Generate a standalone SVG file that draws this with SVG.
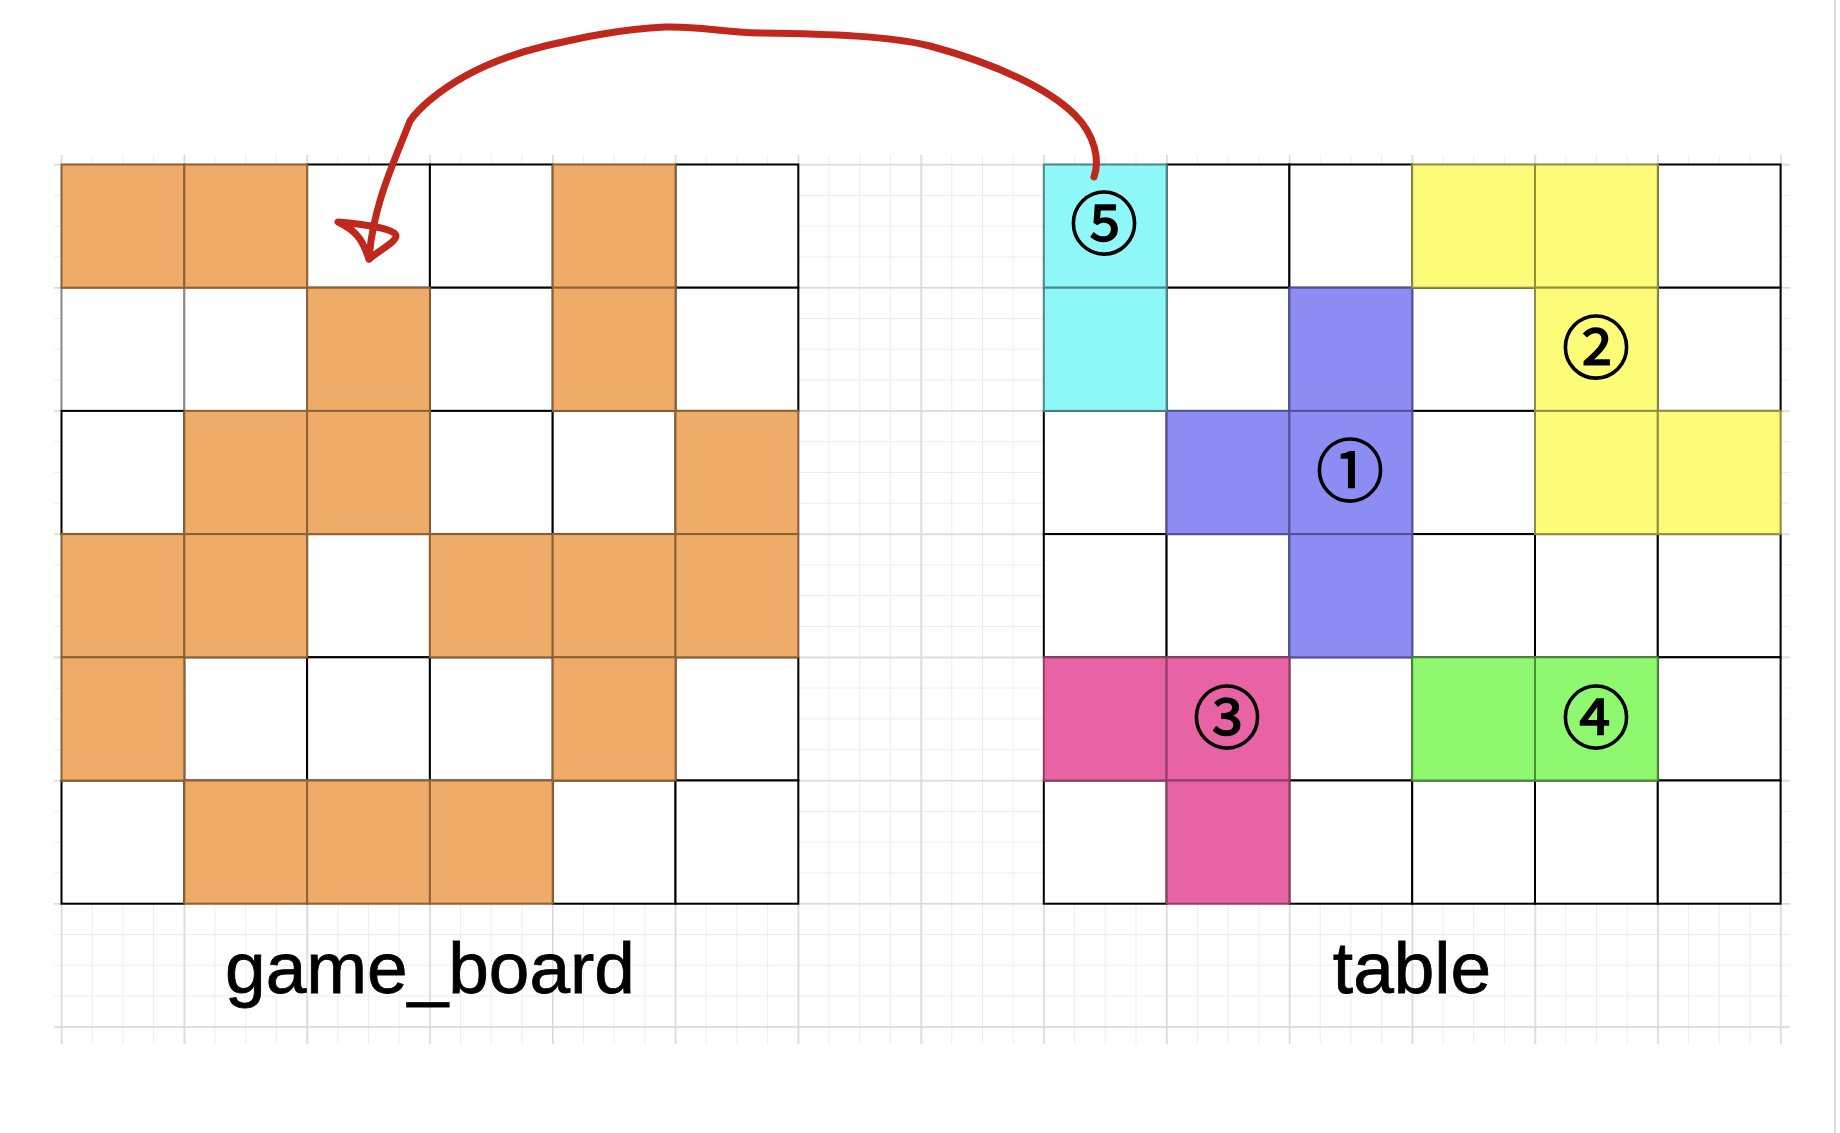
<svg xmlns="http://www.w3.org/2000/svg" width="1840" height="1133" viewBox="0 0 1840 1133">
<defs>
<style>
.w{fill:#ffffff;stroke:#000000;stroke-width:2}
.g{fill:#ffffff;stroke:#8a8a8a;stroke-width:2}
.o{fill:#EEAC68;stroke:#8C6137;stroke-width:2}
.c{fill:#8EF7F7;stroke:#4B8787;stroke-width:2}
.p{fill:#8C8CF2;stroke:#50509A;stroke-width:2}
.y{fill:#FDFC78;stroke:#8F8E3C;stroke-width:2}
.k{fill:#E763A3;stroke:#8E3E62;stroke-width:2}
.n{fill:#8EF86E;stroke:#4E8C3C;stroke-width:2}
.lbl{font-family:"Liberation Sans",Arial,Helvetica,sans-serif;font-size:73px;fill:#000;stroke:#000;stroke-width:0.8;text-anchor:middle}
.num{font-family:"Noto Sans CJK JP","DejaVu Sans",sans-serif;font-size:68px;fill:#000;stroke:#000;stroke-width:1.4;text-anchor:middle}
.arrow{fill:none;stroke:#C0271D;stroke-width:7;stroke-linecap:round;stroke-linejoin:round}
</style>
<pattern id="minor" patternUnits="userSpaceOnUse" x="61" y="164" width="30.7" height="30.8">
<rect x="0" y="0" width="1" height="30.8" fill="#ededed"/>
<rect x="0" y="0" width="30.7" height="1" fill="#ededed"/>
</pattern>
<pattern id="major" patternUnits="userSpaceOnUse" x="60.8" y="163.8" width="122.8" height="123.2">
<rect x="0" y="0" width="1.6" height="123.2" fill="#d9d9d9"/>
<rect x="0" y="0" width="122.8" height="1.6" fill="#d9d9d9"/>
</pattern>
</defs>
<rect x="0" y="0" width="1840" height="1133" fill="#ffffff"/>
<g id="background-grid">
<rect x="54" y="155" width="1736" height="889" fill="url(#minor)"/>
<rect x="54" y="155" width="1736" height="889" fill="url(#major)"/>
<line x1="1835" y1="0" x2="1835" y2="1133" stroke="#dedede" stroke-width="2"/>
</g>
<g id="game_board">
<rect class="w" x="307.1" y="164.5" width="122.8" height="123.2"/>
<rect class="w" x="429.9" y="164.5" width="122.8" height="123.2"/>
<rect class="w" x="675.5" y="164.5" width="122.8" height="123.2"/>
<rect class="g" x="61.5" y="287.7" width="122.8" height="123.2"/>
<rect class="g" x="184.3" y="287.7" width="122.8" height="123.2"/>
<rect class="w" x="429.9" y="287.7" width="122.8" height="123.2"/>
<rect class="w" x="675.5" y="287.7" width="122.8" height="123.2"/>
<rect class="w" x="61.5" y="410.9" width="122.8" height="123.2"/>
<rect class="w" x="429.9" y="410.9" width="122.8" height="123.2"/>
<rect class="w" x="552.7" y="410.9" width="122.8" height="123.2"/>
<rect class="w" x="307.1" y="534.1" width="122.8" height="123.2"/>
<rect class="w" x="184.3" y="657.3" width="122.8" height="123.2"/>
<rect class="w" x="307.1" y="657.3" width="122.8" height="123.2"/>
<rect class="w" x="429.9" y="657.3" width="122.8" height="123.2"/>
<rect class="w" x="675.5" y="657.3" width="122.8" height="123.2"/>
<rect class="w" x="61.5" y="780.5" width="122.8" height="123.2"/>
<rect class="w" x="552.7" y="780.5" width="122.8" height="123.2"/>
<rect class="w" x="675.5" y="780.5" width="122.8" height="123.2"/>
<rect class="o" x="61.5" y="164.5" width="122.8" height="123.2"/>
<rect class="o" x="184.3" y="164.5" width="122.8" height="123.2"/>
<rect class="o" x="552.7" y="164.5" width="122.8" height="123.2"/>
<rect class="o" x="307.1" y="287.7" width="122.8" height="123.2"/>
<rect class="o" x="552.7" y="287.7" width="122.8" height="123.2"/>
<rect class="o" x="184.3" y="410.9" width="122.8" height="123.2"/>
<rect class="o" x="307.1" y="410.9" width="122.8" height="123.2"/>
<rect class="o" x="675.5" y="410.9" width="122.8" height="123.2"/>
<rect class="o" x="61.5" y="534.1" width="122.8" height="123.2"/>
<rect class="o" x="184.3" y="534.1" width="122.8" height="123.2"/>
<rect class="o" x="429.9" y="534.1" width="122.8" height="123.2"/>
<rect class="o" x="552.7" y="534.1" width="122.8" height="123.2"/>
<rect class="o" x="675.5" y="534.1" width="122.8" height="123.2"/>
<rect class="o" x="61.5" y="657.3" width="122.8" height="123.2"/>
<rect class="o" x="552.7" y="657.3" width="122.8" height="123.2"/>
<rect class="o" x="184.3" y="780.5" width="122.8" height="123.2"/>
<rect class="o" x="307.1" y="780.5" width="122.8" height="123.2"/>
<rect class="o" x="429.9" y="780.5" width="122.8" height="123.2"/>
<text class="lbl" x="430" y="993">game_board</text>
</g>
<g id="table">
<rect class="w" x="1166.6" y="164.5" width="122.8" height="123.2"/>
<rect class="w" x="1289.4" y="164.5" width="122.8" height="123.2"/>
<rect class="w" x="1657.8" y="164.5" width="122.8" height="123.2"/>
<rect class="w" x="1166.6" y="287.7" width="122.8" height="123.2"/>
<rect class="w" x="1412.2" y="287.7" width="122.8" height="123.2"/>
<rect class="w" x="1657.8" y="287.7" width="122.8" height="123.2"/>
<rect class="w" x="1043.8" y="410.9" width="122.8" height="123.2"/>
<rect class="w" x="1412.2" y="410.9" width="122.8" height="123.2"/>
<rect class="w" x="1043.8" y="534.1" width="122.8" height="123.2"/>
<rect class="w" x="1166.6" y="534.1" width="122.8" height="123.2"/>
<rect class="w" x="1412.2" y="534.1" width="122.8" height="123.2"/>
<rect class="w" x="1535" y="534.1" width="122.8" height="123.2"/>
<rect class="w" x="1657.8" y="534.1" width="122.8" height="123.2"/>
<rect class="w" x="1289.4" y="657.3" width="122.8" height="123.2"/>
<rect class="w" x="1657.8" y="657.3" width="122.8" height="123.2"/>
<rect class="w" x="1043.8" y="780.5" width="122.8" height="123.2"/>
<rect class="w" x="1289.4" y="780.5" width="122.8" height="123.2"/>
<rect class="w" x="1412.2" y="780.5" width="122.8" height="123.2"/>
<rect class="w" x="1535" y="780.5" width="122.8" height="123.2"/>
<rect class="w" x="1657.8" y="780.5" width="122.8" height="123.2"/>
<g id="piece1">
<rect class="p" x="1289.4" y="287.7" width="122.8" height="123.2"/>
<rect class="p" x="1166.6" y="410.9" width="122.8" height="123.2"/>
<rect class="p" x="1289.4" y="410.9" width="122.8" height="123.2"/>
<rect class="p" x="1289.4" y="534.1" width="122.8" height="123.2"/>
<text class="num" x="1350" y="496">①</text>
</g>
<g id="piece2">
<rect class="y" x="1412.2" y="164.5" width="122.8" height="123.2"/>
<rect class="y" x="1535" y="164.5" width="122.8" height="123.2"/>
<rect class="y" x="1535" y="287.7" width="122.8" height="123.2"/>
<rect class="y" x="1535" y="410.9" width="122.8" height="123.2"/>
<rect class="y" x="1657.8" y="410.9" width="122.8" height="123.2"/>
<text class="num" x="1596" y="373">②</text>
</g>
<g id="piece3">
<rect class="k" x="1043.8" y="657.3" width="122.8" height="123.2"/>
<rect class="k" x="1166.6" y="657.3" width="122.8" height="123.2"/>
<rect class="k" x="1166.6" y="780.5" width="122.8" height="123.2"/>
<text class="num" x="1227" y="743">③</text>
</g>
<g id="piece4">
<rect class="n" x="1412.2" y="657.3" width="122.8" height="123.2"/>
<rect class="n" x="1535" y="657.3" width="122.8" height="123.2"/>
<text class="num" x="1596" y="743">④</text>
</g>
<g id="piece5">
<rect class="c" x="1043.8" y="164.5" width="122.8" height="123.2"/>
<rect class="c" x="1043.8" y="287.7" width="122.8" height="123.2"/>
<text class="num" x="1104" y="249">⑤</text>
</g>
<text class="lbl" x="1412" y="993">table</text>
</g>
<g id="connectors">
<path class="arrow" d="M 1094 177 C 1100 160, 1095 135, 1075 115 C 1050 90, 1000 65, 930 46 C 890 36, 830 34, 760 33 C 720 32, 700 26, 665 27 C 620 29, 580 38, 545 46 C 500 57, 460 75, 430 100 C 418 110, 412 118, 410 121 C 394 162, 373 205, 369 259"/>
<path class="arrow" d="M 338 222 C 360 224, 396 228, 396 236 C 396 242, 380 250, 369 259 C 364 245, 360 232, 338 222 Z"/>
</g>
</svg>
